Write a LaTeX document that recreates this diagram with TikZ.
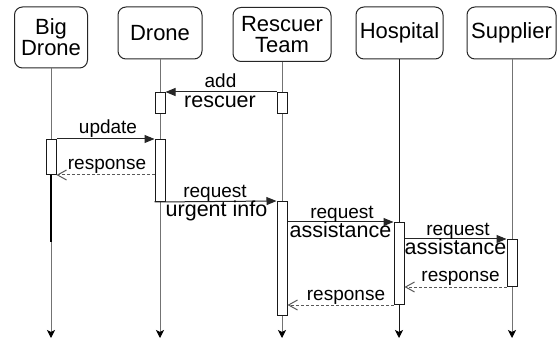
\documentclass[tikz,border=0pt]{standalone}
\usepackage{fontspec}
\setmainfont{Liberation Sans}
\usetikzlibrary{arrows.meta}
\begin{document}
\begin{tikzpicture}[x=1pt,y=-1pt,
  hdr/.style={draw=black!85, line width=1pt, rounded corners=8pt, align=center,
    inner sep=0pt, font=\fontsize{22}{21}\selectfont},
  life/.style={draw=black!55, line width=1pt, -{Stealth[length=8pt,width=8pt,inset=2pt,color=black]}},
  act/.style={draw=black!90, fill=white, line width=1pt, minimum width=10pt, inner sep=0pt, anchor=north},
  msg/.style={draw=black!85, line width=1pt, -{Triangle[length=10pt,width=8pt]}},
  resp/.style={draw=black!65, line width=1pt, dash pattern=on 3pt off 2pt, -{Straight Barb[length=9pt,width=10pt]}},
  lbl/.style={anchor=base, inner sep=0pt, font=\fontsize{19}{19}\selectfont},
  lblb/.style={anchor=base, inner sep=0pt, font=\fontsize{21.5}{21.5}\selectfont}]
\useasboundingbox (0,0) rectangle (557,339);
% headers
\node[hdr, minimum width=73pt, minimum height=61pt] (bd) at (51,37.5) {Big\\Drone};
\node[hdr, minimum width=84pt, minimum height=52pt] (dr) at (160,33) {Drone};
\node[hdr, minimum width=98pt, minimum height=54pt] (rt) at (282,34.5) {Rescuer\\Team};
\node[hdr, minimum width=87pt, minimum height=52pt] (hs) at (399.5,33) {Hospital};
\node[hdr, minimum width=89pt, minimum height=52pt] (sp) at (511.5,33) {Supplier};
% lifeline ends
\coordinate (bdE) at (51,338);
\coordinate (drE) at (160,338);
\coordinate (rtE) at (282,338);
\coordinate (hsE) at (399,338);
\coordinate (spE) at (512,338);
\draw[life] (bd.south) -- (bdE);
\draw[life] (dr.south) -- (drE);
\draw[life] (rt.south) -- (rtE);
\draw[life, draw=black!90] (hs.south -| hsE) -- (hsE);
\draw[life] (sp.south -| spE) -- (spE);
% activation boxes
\node[act, minimum height=21pt] (dr1) at (160,92) {};
\node[act, minimum height=21pt] (rt1) at (282,92) {};
\node[act, minimum height=35pt] (bd1) at (51,139) {};
\node[act, minimum height=62pt] (dr2) at (160,139) {};
\node[act, minimum height=114pt] (rt2) at (282,201) {};
\node[act, minimum height=82pt] (hs1) at (399,222) {};
\node[act, minimum height=47pt] (sp1) at (512,239) {};
\coordinate (bdT) at (51,242);
\draw[black, line width=2pt] (bd1.south) -- (bdT);
% messages
\draw[msg] (rt1.north west) -- (dr1.north east);
\node[lbl] (l1a) at (220.5,87.5) {add};
\node[lblb] (l1b) at (220,108) {rescuer};
\draw[msg] (bd1.north east) -- (dr2.north west);
\node[lbl] (l2) at (108,134) {update};
\draw[resp] (dr2.west |- bd1.south) -- (bd1.south east);
\node[lbl] (l3) at (107,170) {response};
\draw[msg] (dr2.south west) -- (rt2.north west);
\node[lbl] (l4a) at (215,197.5) {request};
\node[lblb] (l4b) at (216.5,216.7) {urgent info};
\draw[msg] (rt2.east |- hs1.north) -- (hs1.north west);
\node[lbl] (l5a) at (342,218.5) {request};
\node[lblb] (l5b) at (340.5,237.7) {assistance};
\draw[msg] (hs1.east |- sp1.north) -- (sp1.north west);
\node[lbl] (l6a) at (458,235.5) {request};
\node[lblb] (l6b) at (455.5,254.7) {assistance};
\draw[resp] (sp1.south west) -- (hs1.east |- sp1.south);
\node[lbl] (l7) at (460.5,281) {response};
\draw[resp] (hs1.south west) -- (rt2.east |- hs1.south);
\node[lbl] (l8) at (346,300) {response};
\end{tikzpicture}
\end{document}
